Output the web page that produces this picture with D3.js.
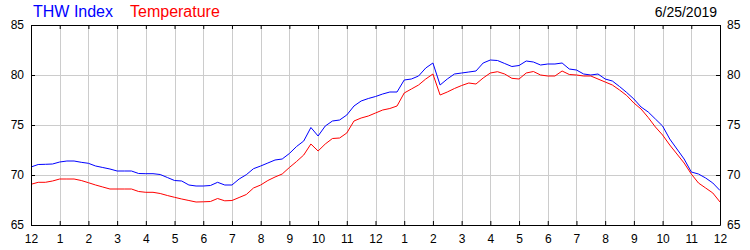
<!DOCTYPE html>
<html>
<head>
<meta charset="utf-8">
<script src="https://cdn.jsdelivr.net/npm/d3@7"></script>
<style>
  body { margin: 0; background: #fff; }
  text { font-family: "Liberation Sans", Arial, sans-serif; }
</style>
</head>
<body>
<script>
// readings every 15 minutes, midnight to midnight
var hours = d3.range(0, 24.001, 0.25);

var thwIndex = [
  70.8, 71.05, 71.07, 71.1, 71.3, 71.4, 71.4, 71.27, 71.17, 70.9, 70.75, 70.6,
  70.4, 70.4, 70.4, 70.15, 70.13, 70.13, 70.05, 69.75, 69.45, 69.4, 69.0, 68.9,
  68.9, 68.95, 69.27, 69.0, 69.0, 69.6, 70.03, 70.63, 70.9, 71.2, 71.5, 71.6,
  72.15, 72.85, 73.4, 74.75, 73.9, 74.9, 75.4, 75.5, 76.0, 76.9, 77.4, 77.65,
  77.85, 78.1, 78.3, 78.3, 79.5, 79.6, 79.9, 80.7, 81.2, 79.0, 79.6, 80.1,
  80.2, 80.3, 80.4, 81.2, 81.5, 81.45, 81.15, 80.85, 80.95, 81.4, 81.3, 81.0,
  81.1, 81.1, 81.2, 80.6, 80.5, 80.1, 80.0, 80.1, 79.6, 79.4, 78.85, 78.25,
  77.6, 76.8, 76.3, 75.6, 74.9, 73.6, 72.6, 71.6, 70.3, 70.1, 69.7, 69.2, 68.45
];

var temperature = [
  69.07, 69.27, 69.27, 69.4, 69.6, 69.6, 69.6, 69.45, 69.23, 69.0, 68.8, 68.6,
  68.6, 68.6, 68.6, 68.35, 68.27, 68.27, 68.15, 67.95, 67.77, 67.6, 67.45, 67.3,
  67.32, 67.35, 67.65, 67.42, 67.45, 67.75, 68.05, 68.7, 69.0, 69.45, 69.8, 70.1,
  70.75, 71.35, 72.0, 73.1, 72.4, 73.1, 73.65, 73.7, 74.2, 75.4, 75.7, 75.9,
  76.2, 76.5, 76.65, 76.9, 78.2, 78.6, 79.0, 79.6, 80.1, 78.0, 78.3, 78.65,
  78.95, 79.2, 79.1, 79.7, 80.2, 80.33, 80.1, 79.67, 79.6, 80.2, 80.35, 80.0,
  79.9, 79.9, 80.4, 80.05, 80.0, 79.9, 79.9, 79.6, 79.3, 79.0, 78.5, 77.95,
  77.2, 76.6, 75.75, 74.8, 74.0, 73.0, 72.1, 71.2, 70.1, 69.2, 68.7, 68.2, 67.3
];

var hourLabels = ["12","1","2","3","4","5","6","7","8","9","10","11",
                  "12","1","2","3","4","5","6","7","8","9","10","11","12"];
var yTicks = [65, 70, 75, 80, 85];
var seriesNames = ["THW Index", "Temperature"];
var seriesColors = ["#0000ff", "#ff0000"];
var dateLabel = "6/25/2019";

var margin = { top: 25, right: 30, bottom: 25, left: 31 };
var width = 750 - margin.left - margin.right;
var height = 250 - margin.top - margin.bottom;

var svg = d3.select("body")
  .append("svg")
  .attr("width", 750)
  .attr("height", 250)
  .style("display", "block");

var g = svg.append("g")
  .attr("transform", "translate(" + margin.left + "," + margin.top + ")");

var x = d3.scaleLinear().domain([0, 24]).range([0, width]);
var y = d3.scaleLinear().domain([65, 85]).range([height, 0]);

var hourTicks = d3.range(0, 25);

// grid lines
g.append("g").selectAll("line.vg")
  .data(hourTicks.slice(1, -1))
  .enter().append("line")
  .attr("x1", function(d) { return Math.round(x(d)) + 0.5; })
  .attr("x2", function(d) { return Math.round(x(d)) + 0.5; })
  .attr("y1", 0).attr("y2", height)
  .attr("stroke", "#cccccc");

g.append("g").selectAll("line.hg")
  .data(yTicks.slice(1, -1))
  .enter().append("line")
  .attr("x1", 0).attr("x2", width)
  .attr("y1", function(d) { return Math.round(y(d)) + 0.5; })
  .attr("y2", function(d) { return Math.round(y(d)) + 0.5; })
  .attr("stroke", "#cccccc");

// the two series
var line = d3.line()
  .x(function(d, i) { return x(hours[i]); })
  .y(function(d) { return y(d); });

[thwIndex, temperature].forEach(function(values, k) {
  g.append("path")
    .datum(values)
    .attr("fill", "none")
    .attr("stroke", seriesColors[k])
    .attr("stroke-width", 1)
    .attr("d", line);
});

// axes: ticks point inward on every side
var fmtHour = function(d) { return hourLabels[d]; };

g.append("g")
  .attr("transform", "translate(0," + height + ")")
  .call(d3.axisBottom(x).tickValues(hourTicks).tickFormat(fmtHour)
    .tickSizeInner(-4).tickSizeOuter(0).tickPadding(9));

g.append("g")
  .call(d3.axisTop(x).tickValues(hourTicks).tickFormat("")
    .tickSizeInner(-4).tickSizeOuter(0));

g.append("g")
  .call(d3.axisLeft(y).tickValues(yTicks).tickFormat(d3.format("d"))
    .tickSizeInner(-4).tickSizeOuter(0).tickPadding(7));

g.append("g")
  .attr("transform", "translate(" + width + ",0)")
  .call(d3.axisRight(y).tickValues(yTicks).tickFormat(d3.format("d"))
    .tickSizeInner(-4).tickSizeOuter(0).tickPadding(7));

g.selectAll(".domain").attr("stroke", "#000");
g.selectAll(".tick line").attr("stroke", "#000");
g.selectAll(".tick text")
  .attr("fill", "#000")
  .style("font-size", "12px")
  .style("font-family", "'Liberation Sans', Arial, sans-serif");

// legend and date
var legend = svg.append("g");
legend.selectAll("text")
  .data(seriesNames)
  .enter().append("text")
  .attr("x", function(d, i) { return i == 0 ? 33 : 130; })
  .attr("y", 17)
  .attr("fill", function(d, i) { return seriesColors[i]; })
  .style("font-size", "16px")
  .text(function(d) { return d; });

svg.append("text")
  .attr("x", 717)
  .attr("y", 17)
  .attr("text-anchor", "end")
  .style("font-size", "14px")
  .attr("fill", "#000")
  .text(dateLabel);
</script>
</body>
</html>
